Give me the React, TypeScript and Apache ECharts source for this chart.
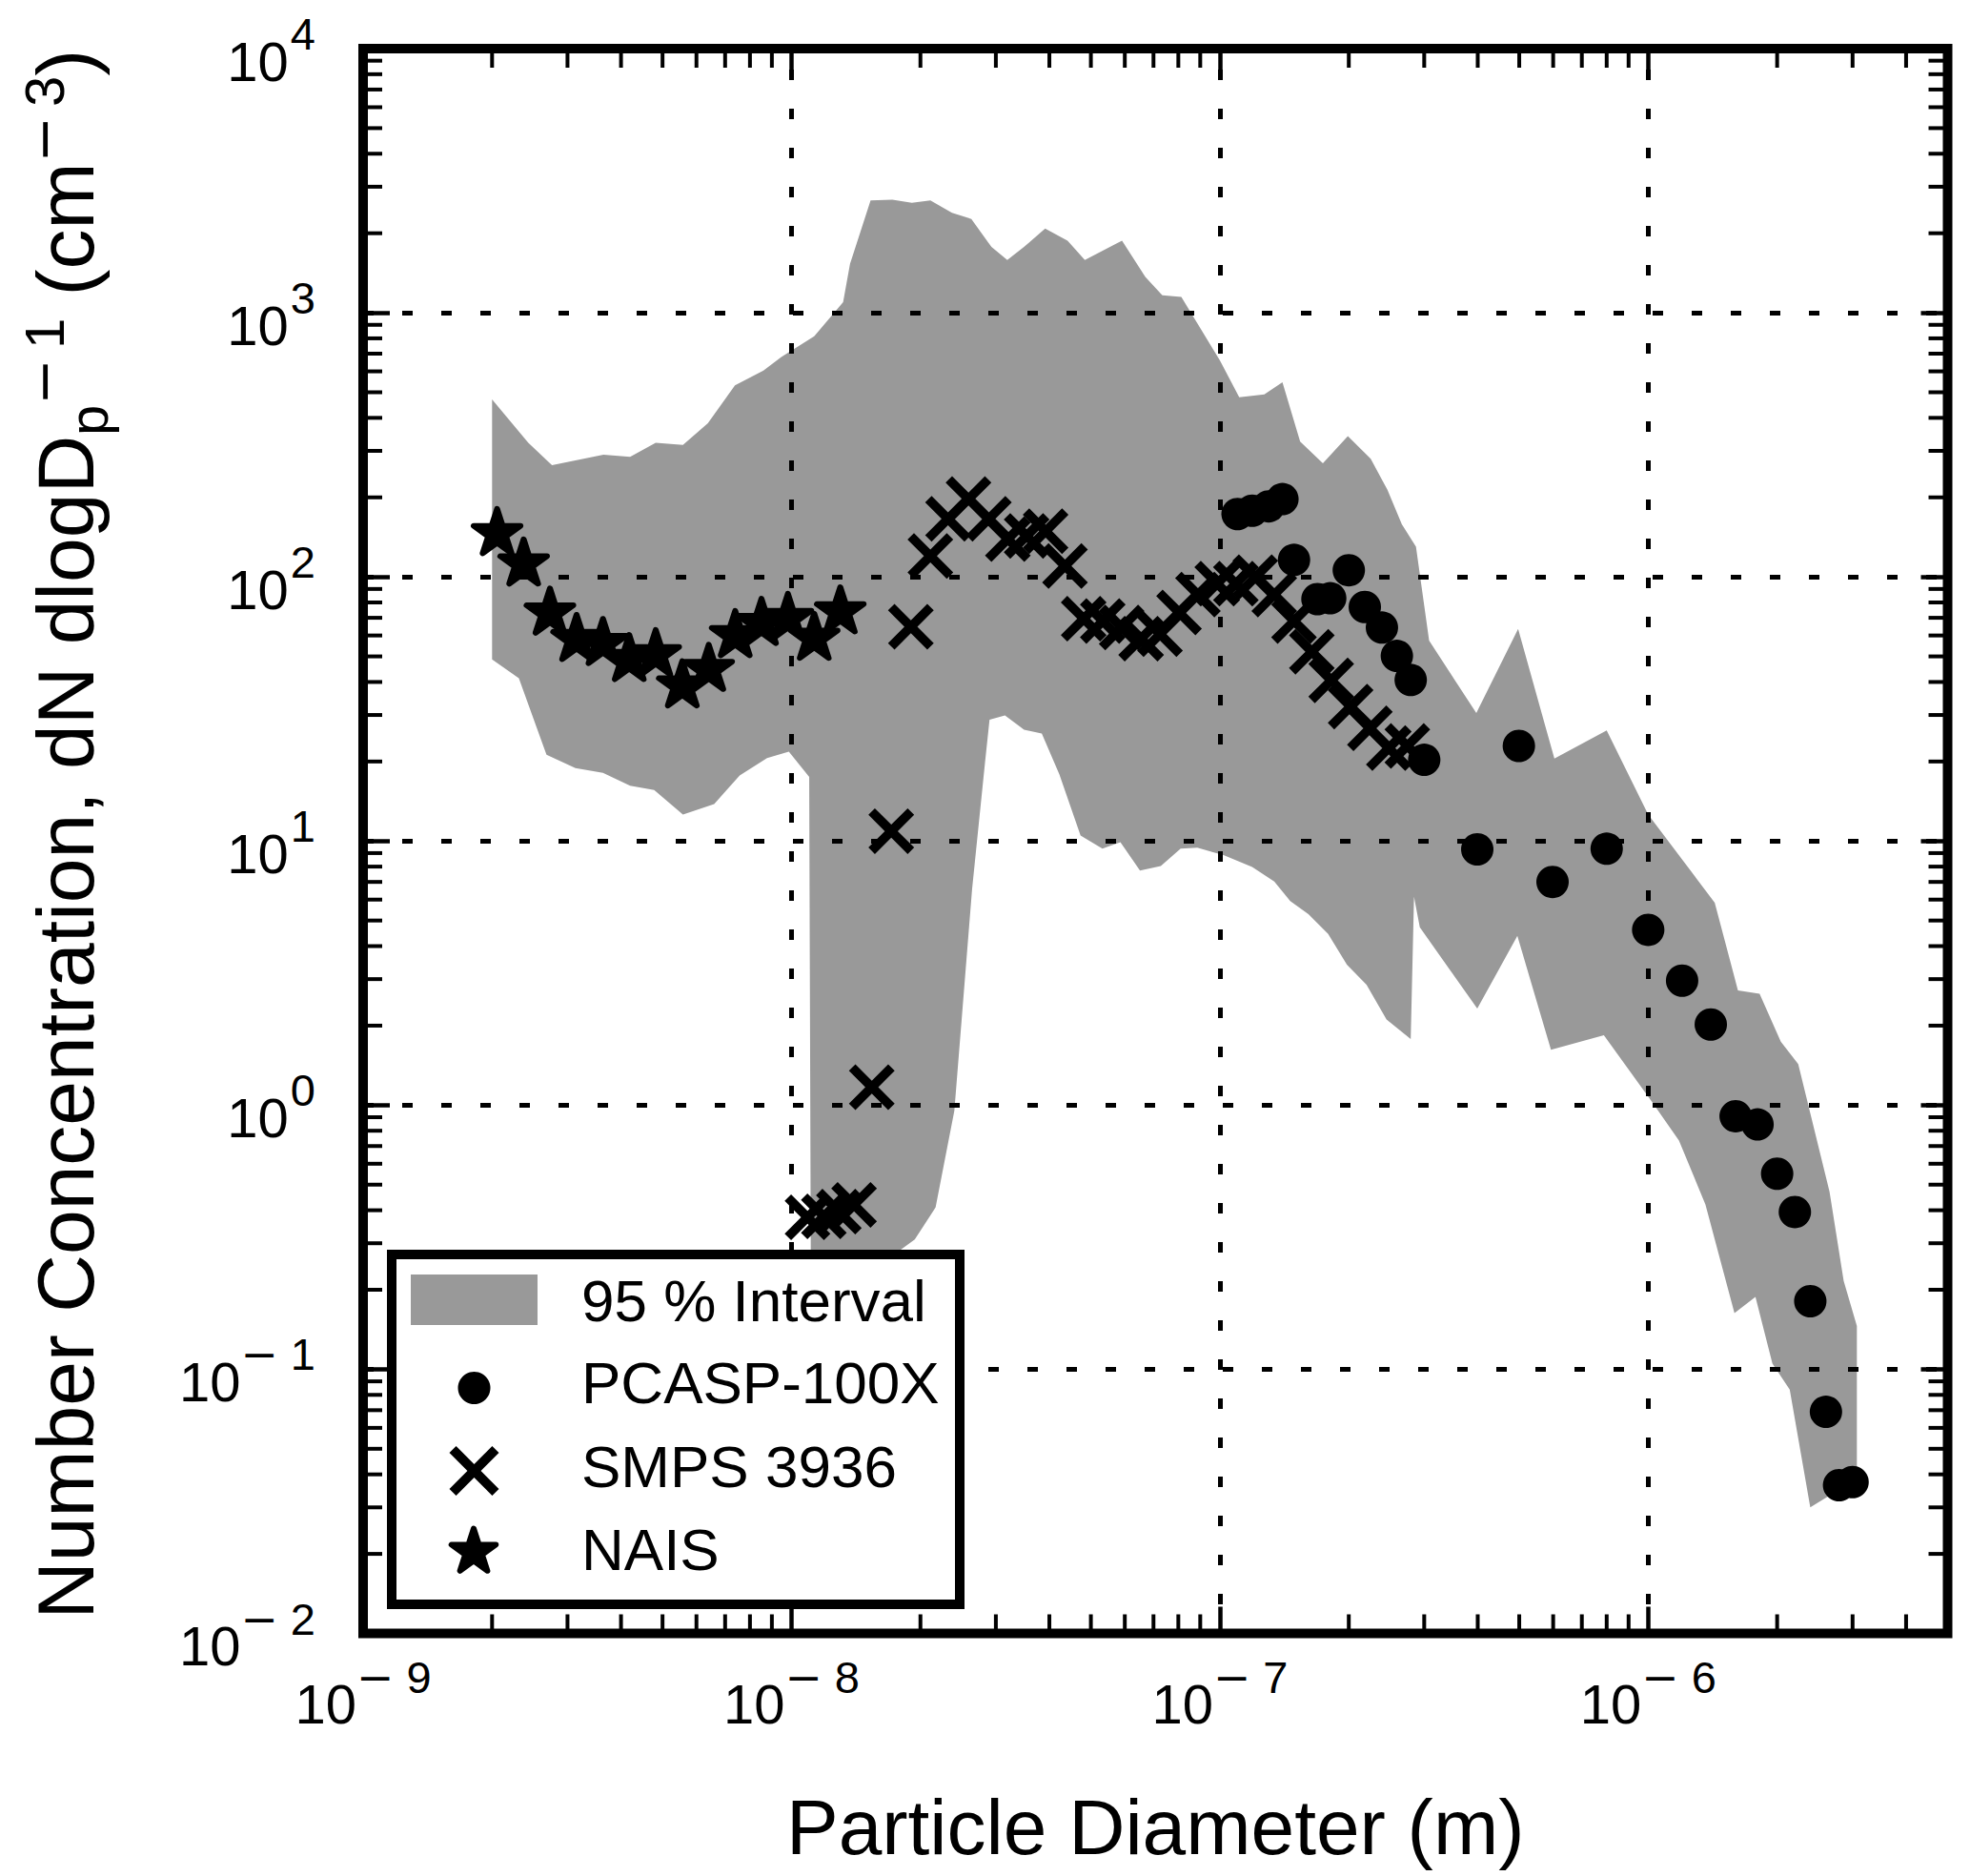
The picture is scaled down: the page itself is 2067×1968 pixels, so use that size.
import React, { useEffect, useRef } from 'react';
import * as echarts from 'echarts';

const FONT = "'Liberation Sans', Arial, Helvetica, sans-serif";
const MINUS_FONT = "'DejaVu Sans', 'Liberation Sans', sans-serif";

// axis extents
const xMin = 1e-9;
const xMax = 5e-6;
const yMin = 1e-2;
const yMax = 1e4;

// decades used for minor ticks
const xDecades = [1e-9, 1e-8, 1e-7, 1e-6];
const yDecades = [1e-2, 1e-1, 1, 10, 100, 1000];
const minorMultipliers = [2, 3, 4, 5, 6, 7, 8, 9];

// 95 % interval band: upper and lower edges [diameter (m), dN/dlogDp (cm^-3)]
const bandUpper: number[][] = [
  [2.0e-9, 470], [2.43e-9, 322], [2.76e-9, 265], [3.64e-9, 290], [4.2e-9, 285],
  [4.82e-9, 322], [5.58e-9, 316], [6.38e-9, 382], [7.38e-9, 531], [8.6e-9, 604],
  [9.47e-9, 680], [1.13e-8, 815], [1.32e-8, 1097], [1.37e-8, 1531], [1.53e-8, 2663],
  [1.72e-8, 2680], [1.91e-8, 2605], [2.11e-8, 2663], [2.37e-8, 2388], [2.63e-8, 2266],
  [2.93e-8, 1774], [3.19e-8, 1585], [3.49e-8, 1774], [3.91e-8, 2082], [4.41e-8, 1875],
  [4.84e-8, 1585], [5.91e-8, 1875], [6.7e-8, 1368], [7.34e-8, 1165], [8.13e-8, 1148],
  [1.0e-7, 661], [1.11e-7, 479], [1.27e-7, 491], [1.4e-7, 545], [1.54e-7, 325],
  [1.74e-7, 269], [1.99e-7, 341], [2.25e-7, 280], [2.46e-7, 214], [2.66e-7, 158],
  [2.87e-7, 130], [3.08e-7, 57.4], [3.97e-7, 30.5], [4.97e-7, 63.5], [6.04e-7, 20.5],
  [8.0e-7, 26.2], [1.0e-6, 12.6], [1.43e-6, 5.84], [1.62e-6, 2.72], [1.82e-6, 2.64],
  [2.04e-6, 1.74], [2.24e-6, 1.43], [2.65e-6, 0.471], [2.86e-6, 0.216], [3.07e-6, 0.146],
];
const bandLower: number[][] = [
  [2.0e-9, 48.7], [2.31e-9, 41.3], [2.68e-9, 21.2], [3.13e-9, 18.9], [3.63e-9, 18.1],
  [4.2e-9, 16.2], [4.78e-9, 15.6], [5.58e-9, 12.6], [6.6e-9, 13.8], [7.57e-9, 17.7],
  [8.77e-9, 20.6], [9.86e-9, 21.8], [1.1e-8, 17.5], [1.11e-8, 0.2], [1.4e-8, 0.22],
  [1.6e-8, 0.25], [1.78e-8, 0.28], [1.94e-8, 0.31], [2.17e-8, 0.41], [2.4e-8, 0.953],
  [2.64e-8, 6.56], [2.83e-8, 19.8], [2.9e-8, 28.8], [3.15e-8, 29.9], [3.49e-8, 26.4],
  [3.84e-8, 25.5], [4.22e-8, 17.9], [4.73e-8, 10.5], [5.32e-8, 9.36], [5.86e-8, 9.9],
  [6.51e-8, 7.73], [7.28e-8, 8.04], [8.1e-8, 9.36], [8.86e-8, 9.44], [1.02e-7, 8.84],
  [1.19e-7, 7.97], [1.34e-7, 7.03], [1.46e-7, 5.92], [1.61e-7, 5.28], [1.79e-7, 4.45],
  [1.98e-7, 3.4], [2.2e-7, 2.86], [2.45e-7, 2.11], [2.79e-7, 1.78], [2.84e-7, 6.15],
  [2.93e-7, 4.71], [3.99e-7, 2.32], [4.95e-7, 4.37], [5.93e-7, 1.62], [7.88e-7, 1.84],
  [1.02e-6, 1.03], [1.18e-6, 0.735], [1.36e-6, 0.421], [1.59e-6, 0.163], [1.78e-6, 0.188],
  [1.95e-6, 0.105], [2.14e-6, 0.0838], [2.39e-6, 0.03], [3.07e-6, 0.0385],
];

// PCASP-100X
const pcasp: number[][] = [
  [1.1e-7, 173], [1.19e-7, 178], [1.3e-7, 185], [1.4e-7, 197], [1.49e-7, 116],
  [1.69e-7, 82.4], [1.81e-7, 83], [2.0e-7, 106], [2.18e-7, 76.9], [2.39e-7, 64.3],
  [2.59e-7, 50.2], [2.79e-7, 40.7], [3.0e-7, 20.3], [3.99e-7, 9.3], [4.99e-7, 22.9],
  [5.98e-7, 7.0], [8.0e-7, 9.35], [1.0e-6, 4.61], [1.2e-6, 2.96], [1.4e-6, 2.02],
  [1.6e-6, 0.908], [1.8e-6, 0.845], [2.0e-6, 0.55], [2.2e-6, 0.394], [2.39e-6, 0.181],
  [2.6e-6, 0.069], [2.79e-6, 0.0364], [3.0e-6, 0.0374],
];

// SMPS 3936
const smps: number[][] = [
  [1.09e-8, 0.376], [1.19e-8, 0.379], [1.29e-8, 0.395], [1.4e-8, 0.419], [1.54e-8, 1.17],
  [1.71e-8, 10.9], [1.9e-8, 64.7], [2.11e-8, 120], [2.32e-8, 166], [2.59e-8, 197],
  [2.89e-8, 166], [3.2e-8, 139], [3.54e-8, 143], [3.92e-8, 149], [4.35e-8, 110],
  [4.81e-8, 69.4], [5.33e-8, 68.1], [5.9e-8, 64.3], [6.55e-8, 58.4], [7.25e-8, 60.7],
  [8.03e-8, 73.4], [8.89e-8, 85.7], [9.86e-8, 94.3], [1.09e-7, 94.3], [1.21e-7, 99.8],
  [1.34e-7, 85.7], [1.49e-7, 68.1], [1.64e-7, 52.1], [1.82e-7, 40.6], [2.02e-7, 32.3],
  [2.24e-7, 26.7], [2.48e-7, 22.5], [2.74e-7, 22.9],
];

// NAIS
const nais: number[][] = [
  [2.055e-9, 146], [2.37e-9, 112], [2.73e-9, 73], [3.15e-9, 58], [3.63e-9, 56],
  [4.18e-9, 48.7], [4.82e-9, 50.8], [5.56e-9, 38.7], [6.41e-9, 44.7], [7.39e-9, 60],
  [8.51e-9, 66.7], [9.81e-9, 69.7], [1.13e-8, 58.6], [1.3e-8, 73.8],
];

const legendLabels = ['95 % Interval', 'PCASP-100X', 'SMPS 3936', 'NAIS'];
const xTitle = 'Particle Diameter (m)';

// ---------- marker geometry helpers ----------
function starPts(cx: number, cy: number, R: number): number[][] {
  const pts: number[][] = [];
  for (let i = 0; i < 10; i++) {
    const r = i % 2 === 0 ? R : R * 0.381966;
    const a = -Math.PI / 2 + (i * Math.PI) / 5;
    pts.push([cx + r * Math.cos(a), cy + r * Math.sin(a)]);
  }
  return pts;
}
function crossPts(cx: number, cy: number, s: number, t: number): number[][] {
  const h = s / 2;
  const d = t / Math.SQRT2;
  const rel = [
    [-h, -h + d], [-h + d, -h], [0, -d], [h - d, -h], [h, -h + d], [d, 0],
    [h, h - d], [h - d, h], [0, d], [-h + d, h], [-h, h - d], [-d, 0],
  ];
  return rel.map((p) => [cx + p[0], cy + p[1]]);
}
function toPath(pts: number[][]): string {
  return 'path://M' + pts.map((p) => p[0].toFixed(3) + ',' + p[1].toFixed(3)).join('L') + 'Z';
}
const starPath = toPath(starPts(0, 0, 100));
const crossPath = toPath(crossPts(50, 50, 100, 20));

const xMinor = xDecades.flatMap((d) => minorMultipliers.map((m) => m * d)).filter((v) => v < xMax * 0.999);
const yMinor = yDecades.flatMap((d) => minorMultipliers.map((m) => m * d));

function tickLabel(v: number): string {
  const lg = Math.log10(v);
  const e = Math.round(lg);
  if (Math.abs(lg - e) > 1e-6) return '';
  return e < 0 ? `{b|10}{m|−}{s|${-e}}` : `{b|10}{p|${e}}`;
}

const labelRich = {
  b: { fontSize: 58, lineHeight: 58, padding: [26, 0, 0, 0], fontFamily: FONT, color: '#000' },
  m: { fontSize: 47, lineHeight: 47, padding: [3, 13, 34, 0], fontFamily: MINUS_FONT, color: '#000' },
  s: { fontSize: 47, lineHeight: 47, padding: [3, 0, 34, 0], fontFamily: FONT, color: '#000' },
  p: { fontSize: 47, lineHeight: 47, padding: [3, 0, 34, 2], fontFamily: FONT, color: '#000' },
};

export default function App() {
  const ref = useRef<HTMLDivElement>(null);
  useEffect(() => {
    if (!ref.current) return;
    const chart = echarts.init(ref.current, undefined, { renderer: 'svg' });
    const polygonData = bandUpper.concat(bandLower.slice().reverse());
    const LZ = 100;

    const option: any = {
      animation: false,
      backgroundColor: '#fff',
      grid: {
        left: 381, top: 51, right: 23.5, bottom: 254.5,
        show: true, borderColor: '#000', borderWidth: 10, backgroundColor: 'transparent',
        containLabel: false, outerBoundsMode: 'none',
      },
      xAxis: [
        {
          type: 'log', logBase: 10, min: xMin, max: xMax, position: 'bottom',
          axisLine: { show: false },
          axisTick: { show: true, inside: true, length: 28, lineStyle: { color: '#000', width: 4.5 } },
          splitLine: { show: true, lineStyle: { color: '#000', width: 5, type: [11, 30], dashOffset: 18.5 } },
          axisLabel: { show: true, margin: 32, formatter: tickLabel, rich: labelRich, color: '#000', fontFamily: FONT },
          name: xTitle, nameLocation: 'middle', nameGap: 162,
          nameTextStyle: { fontSize: 82, fontFamily: FONT, color: '#000' },
        },
        {
          type: 'log', logBase: 10, min: xMin, max: xMax, position: 'top',
          axisLine: { show: false },
          axisTick: { show: true, inside: true, length: 28, lineStyle: { color: '#000', width: 4.5 } },
          splitLine: { show: false }, axisLabel: { show: false },
        },
      ],
      yAxis: [
        {
          type: 'log', logBase: 10, min: yMin, max: yMax, position: 'left',
          axisLine: { show: false },
          axisTick: { show: true, inside: true, length: 28, lineStyle: { color: '#000', width: 4.5 } },
          splitLine: { show: true, lineStyle: { color: '#000', width: 5, type: [11, 30] } },
          axisLabel: { show: true, margin: 50, formatter: tickLabel, rich: labelRich, color: '#000', fontFamily: FONT },
          name: '{a|Number Concentration, dN dlogD}{sub|p}{m|−}{sup|1}{t| (cm}{m|−}{sup|3}{t|)}',
          nameLocation: 'middle', nameRotate: 90, nameGap: 270,
          nameTextStyle: {
            fontSize: 84, fontFamily: FONT, color: '#000',
            rich: {
              a: { fontSize: 84, lineHeight: 84, padding: [11, 0, 11, 14], fontFamily: FONT, color: '#000' },
              t: { fontSize: 84, lineHeight: 84, padding: [11, 0, 11, 0], fontFamily: FONT, color: '#000' },
              sub: { fontSize: 58, lineHeight: 58, padding: [47, 0, 1, 0], fontFamily: FONT, color: '#000' },
              m: { fontSize: 58, lineHeight: 58, padding: [1, 10, 47, 0], fontFamily: MINUS_FONT, color: '#000' },
              sup: { fontSize: 58, lineHeight: 58, padding: [1, 0, 47, 0], fontFamily: FONT, color: '#000' },
            },
          },
        },
        {
          type: 'log', logBase: 10, min: yMin, max: yMax, position: 'right',
          axisLine: { show: false },
          axisTick: { show: true, inside: true, length: 28, lineStyle: { color: '#000', width: 4.5 } },
          splitLine: { show: false }, axisLabel: { show: false },
        },
      ],
      series: [
        {
          name: legendLabels[0], type: 'custom', z: -1, silent: true,
          xAxisIndex: 0, yAxisIndex: 0,
          data: [[bandUpper[0][0], bandUpper[0][1]]],
          renderItem: (params: any, api: any) => ({
            type: 'polygon',
            shape: { points: polygonData.map((p) => api.coord(p)) },
            style: { fill: '#999999' },
          }),
        },
        {
          type: 'custom', z: 3, silent: true, xAxisIndex: 0, yAxisIndex: 0,
          encode: { x: 0, y: 1 },
          data: xMinor.map((v) => [v, 1]),
          renderItem: (params: any, api: any) => {
            const cs = params.coordSys;
            const x = api.coord([api.value(0), 1])[0];
            const st = { stroke: '#000', lineWidth: 4 };
            return {
              type: 'group',
              children: [
                { type: 'line', shape: { x1: x, y1: cs.y + cs.height, x2: x, y2: cs.y + cs.height - 20 }, style: st },
                { type: 'line', shape: { x1: x, y1: cs.y, x2: x, y2: cs.y + 20 }, style: st },
              ],
            };
          },
        },
        {
          type: 'custom', z: 3, silent: true, xAxisIndex: 0, yAxisIndex: 0,
          encode: { x: 0, y: 1 },
          data: yMinor.map((v) => [1e-8, v]),
          renderItem: (params: any, api: any) => {
            const cs = params.coordSys;
            const y = api.coord([1e-8, api.value(1)])[1];
            const st = { stroke: '#000', lineWidth: 4 };
            return {
              type: 'group',
              children: [
                { type: 'line', shape: { x1: cs.x, y1: y, x2: cs.x + 20, y2: y }, style: st },
                { type: 'line', shape: { x1: cs.x + cs.width, y1: y, x2: cs.x + cs.width - 20, y2: y }, style: st },
              ],
            };
          },
        },
        {
          name: legendLabels[1], type: 'scatter', z: 4, data: pcasp,
          symbol: 'circle', symbolSize: 34, itemStyle: { color: '#000', opacity: 1 },
        },
        {
          name: legendLabels[2], type: 'scatter', z: 5, data: smps,
          symbol: crossPath, symbolSize: 48, itemStyle: { color: '#000', opacity: 1 },
        },
        {
          name: legendLabels[3], type: 'scatter', z: 6, data: nais,
          symbol: starPath, symbolSize: [49, 46.6], symbolOffset: [0, -2.5],
          itemStyle: { color: '#000', opacity: 1, borderColor: '#000', borderWidth: 6, borderJoin: 'round' },
        },
      ],
      graphic: [
        { type: 'rect', z: LZ, shape: { x: 411, y: 1316, width: 596, height: 367 }, style: { fill: '#fff', stroke: '#000', lineWidth: 10 } },
        { type: 'rect', z: LZ + 1, shape: { x: 431, y: 1337, width: 133, height: 53 }, style: { fill: '#999999' } },
        { type: 'circle', z: LZ + 1, shape: { cx: 497.5, cy: 1456, r: 17 }, style: { fill: '#000' } },
        { type: 'polygon', z: LZ + 1, shape: { points: crossPts(497.5, 1543, 52, 10) }, style: { fill: '#000' } },
        { type: 'polygon', z: LZ + 1, shape: { points: starPts(497, 1628, 24.5) }, style: { fill: '#000', stroke: '#000', lineWidth: 6, lineJoin: 'round' } },
        ...legendLabels.map((t, i) => ({
          type: 'text', z: LZ + 1, x: 610, y: [1364, 1450, 1538, 1625][i],
          style: { text: t, fontSize: 62, fontFamily: FONT, fill: '#000', verticalAlign: 'middle', textAlign: 'left' },
        })),
      ],
    };
    chart.setOption(option);
    return () => chart.dispose();
  }, []);
  return <div ref={ref} style={{ position: 'absolute', left: 0, top: 0, width: 2067, height: 1968, background: '#fff' }} />;
}
